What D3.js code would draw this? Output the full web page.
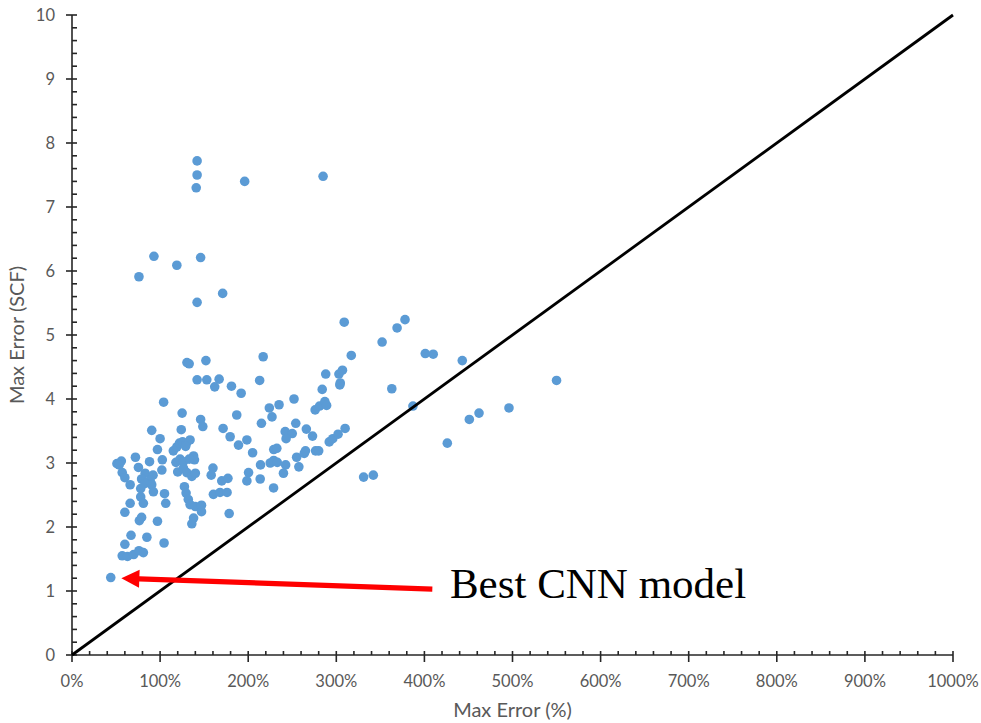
<!DOCTYPE html>
<html>
<head>
<meta charset="utf-8">
<script src="https://cdn.jsdelivr.net/npm/d3@7"></script>
<style>
  html, body { margin: 0; padding: 0; background: #ffffff; }
  svg { display: block; }
  .tick-label { font-family: Lato, "Open Sans", sans-serif; font-size: 16.5px; fill: #595959; }
  .axis-title { font-family: Lato, "Open Sans", sans-serif; font-size: 20px; fill: #595959; }
  .note { font-family: "Liberation Serif", "DejaVu Serif", serif; font-size: 43px; fill: #000000; }
</style>
</head>
<body>
<svg id="chart" width="981" height="723"></svg>
<script>
// Max error of each trained model, as a percentage and in SCF
const errPct = [
  142, 142, 141, 196, 285, 93, 119, 146, 76, 171, 142,
  309, 369, 378, 352, 317, 401, 410, 443, 550, 288, 303, 307, 304.5, 304,
  284, 363, 252, 276, 281, 287, 289, 387, 451, 462, 496, 426, 292, 296, 302,
  310, 331, 342,
  130.5, 133, 152, 217, 142, 153, 167, 162, 181, 192, 213, 104, 224, 235,
  227, 187, 125, 146, 148.5, 215, 254, 171.5, 90.5, 124, 100, 179.5, 198.5,
  189, 242, 250, 243, 266, 273, 97, 115, 119, 122, 125.5, 130, 134, 129,
  72, 102.5, 138, 139, 205, 229, 232.5, 255, 263.6, 265, 276.5, 280,
  51, 56, 53.5, 88, 118, 122.7, 126.5, 133, 160, 158, 214, 225, 229, 233,
  242.5, 257.5, 75.4, 57, 60, 66, 83, 92, 79, 88.6, 83, 102, 120, 126.5,
  130.3, 136, 140, 78, 90.5, 92.4, 78, 81, 66, 60, 76.5, 79, 97, 105,
  106.4, 127.6, 129.5, 132, 134, 140, 147, 147, 138, 136, 160.5, 168, 176,
  170, 177, 178.4, 200.4, 198.5, 213.6, 240, 228.8,
  60, 67, 85, 104.5, 57, 63, 70, 76, 81, 44
];
const errScf = [
  7.72, 7.50, 7.30, 7.40, 7.48, 6.23, 6.09, 6.21, 5.91, 5.65, 5.51,
  5.20, 5.11, 5.24, 4.89, 4.68, 4.71, 4.70, 4.60, 4.29, 4.39, 4.39, 4.45, 4.25, 4.22,
  4.15, 4.16, 4.00, 3.83, 3.89, 3.96, 3.90, 3.89, 3.68, 3.78, 3.86, 3.31, 3.33, 3.38, 3.45,
  3.54, 2.78, 2.81,
  4.57, 4.55, 4.60, 4.66, 4.30, 4.30, 4.31, 4.19, 4.20, 4.09, 4.29, 3.95, 3.86, 3.91,
  3.72, 3.75, 3.78, 3.68, 3.57, 3.62, 3.62, 3.54, 3.51, 3.52, 3.38, 3.41, 3.36,
  3.28, 3.49, 3.46, 3.38, 3.53, 3.42, 3.21, 3.19, 3.25, 3.31, 3.33, 3.31, 3.36, 3.26,
  3.09, 3.05, 3.11, 3.05, 3.16, 3.21, 3.23, 3.09, 3.15, 3.19, 3.19, 3.19,
  2.99, 3.03, 2.97, 3.02, 3.01, 3.06, 3.02, 3.06, 2.92, 2.81, 2.97, 3.00, 3.04, 3.01,
  2.97, 2.94, 2.93, 2.85, 2.77, 2.66, 2.84, 2.81, 2.75, 2.73, 2.68, 2.89, 2.86, 2.92,
  2.85, 2.79, 2.84, 2.60, 2.66, 2.55, 2.47, 2.37, 2.37, 2.23, 2.10, 2.15, 2.09, 2.52,
  2.37, 2.63, 2.53, 2.43, 2.35, 2.32, 2.34, 2.24, 2.14, 2.05, 2.51, 2.54, 2.54,
  2.72, 2.76, 2.21, 2.85, 2.72, 2.75, 2.84, 2.61,
  1.73, 1.87, 1.84, 1.75, 1.55, 1.54, 1.57, 1.63, 1.60, 1.21
];

// Axis ticks
const xTicks = [0, 100, 200, 300, 400, 500, 600, 700, 800, 900, 1000];
const yTicks = [0, 1, 2, 3, 4, 5, 6, 7, 8, 9, 10];
const xMinorStep = 20;
const yMinorStep = 0.2;

// Reference line y = x / 100 and the callout for the best model
const parityLine = [[0, 0], [1000, 10]];
const arrowTail = [409, 1.03];
const arrowHead = [56, 1.20];
const noteText = "Best CNN model";
const noteAnchor = [429, 0.89];

const margin = { top: 15, right: 28, bottom: 68, left: 72 };
const width = 981, height = 723;
const svg = d3.select("#chart");

const x = d3.scaleLinear().domain([0, 1000]).range([margin.left, width - margin.right]);
const y = d3.scaleLinear().domain([0, 10]).range([height - margin.bottom, margin.top]);

const axisColor = "#262626";

// y axis
const yMinor = d3.range(0, 10 + 1e-9, yMinorStep).filter(v => Math.abs(v - Math.round(v)) > 1e-6);
const yAxis = svg.append("g").attr("transform", `translate(${x(0)},0)`);
yAxis.append("line").attr("y1", y(0)).attr("y2", y(10)).attr("stroke", axisColor).attr("stroke-width", 1.6);
yAxis.selectAll(".ymaj").data(yTicks).join("line")
  .attr("x1", -6).attr("x2", 5).attr("y1", d => y(d)).attr("y2", d => y(d))
  .attr("stroke", axisColor).attr("stroke-width", 1.6);
yAxis.selectAll(".ymin").data(yMinor).join("line")
  .attr("x1", 0).attr("x2", 5).attr("y1", d => y(d)).attr("y2", d => y(d))
  .attr("stroke", axisColor).attr("stroke-width", 1.6);
yAxis.selectAll("text").data(yTicks).join("text")
  .attr("class", "tick-label")
  .attr("x", -17).attr("y", d => y(d)).attr("dy", "0.36em")
  .attr("text-anchor", "end").text(d => d);

// x axis
const xMinor = d3.range(0, 1000 + 1e-9, xMinorStep).filter(v => v % 100 !== 0);
const xAxis = svg.append("g").attr("transform", `translate(0,${y(0)})`);
xAxis.append("line").attr("x1", x(0)).attr("x2", x(1000)).attr("stroke", axisColor).attr("stroke-width", 1.6);
xAxis.selectAll(".xmaj").data(xTicks).join("line")
  .attr("y1", -4).attr("y2", 7).attr("x1", d => x(d)).attr("x2", d => x(d))
  .attr("stroke", axisColor).attr("stroke-width", 1.6);
xAxis.selectAll(".xmin").data(xMinor).join("line")
  .attr("y1", -4).attr("y2", 0).attr("x1", d => x(d)).attr("x2", d => x(d))
  .attr("stroke", axisColor).attr("stroke-width", 1.6);
xAxis.selectAll("text").data(xTicks).join("text")
  .attr("class", "tick-label")
  .attr("x", d => x(d)).attr("y", 26).attr("dy", "0.36em")
  .attr("text-anchor", "middle").text(d => d + "%");

// axis titles
svg.append("text").attr("class", "axis-title")
  .attr("x", (x(0) + x(1000)) / 2).attr("y", 717)
  .attr("text-anchor", "middle").text("Max Error (%)");
svg.append("text").attr("class", "axis-title")
  .attr("transform", `translate(24,${(y(0) + y(10)) / 2}) rotate(-90)`)
  .attr("text-anchor", "middle").text("Max Error (SCF)");

// points
const pts = errPct.map((v, i) => [v, errScf[i]]);
svg.append("g").selectAll("circle").data(pts).join("circle")
  .attr("cx", d => x(d[0])).attr("cy", d => y(d[1])).attr("r", 4.8)
  .attr("fill", "#5b9bd5");

// parity line
svg.append("path")
  .attr("d", d3.line().x(d => x(d[0])).y(d => y(d[1]))(parityLine))
  .attr("stroke", "#000000").attr("stroke-width", 2.8).attr("fill", "none");

// callout arrow
(function drawArrow() {
  const x0 = x(arrowTail[0]), y0 = y(arrowTail[1]);
  const x1 = x(arrowHead[0]), y1 = y(arrowHead[1]);
  const dx = x1 - x0, dy = y1 - y0, len = Math.hypot(dx, dy);
  const ux = dx / len, uy = dy / len, nx = -uy, ny = ux;
  const headLen = 18, headHalf = 9, shaftHalf = 2.6;
  const bx = x1 - ux * headLen, by = y1 - uy * headLen;
  const poly = [
    [x0 + nx * shaftHalf, y0 + ny * shaftHalf],
    [bx + nx * shaftHalf, by + ny * shaftHalf],
    [bx + nx * headHalf, by + ny * headHalf],
    [x1, y1],
    [bx - nx * headHalf, by - ny * headHalf],
    [bx - nx * shaftHalf, by - ny * shaftHalf],
    [x0 - nx * shaftHalf, y0 - ny * shaftHalf]
  ];
  svg.append("path").attr("d", "M" + poly.map(p => p.join(",")).join("L") + "Z")
    .attr("fill", "#ff0000");
})();

svg.append("text").attr("class", "note")
  .attr("x", x(noteAnchor[0])).attr("y", y(noteAnchor[1]))
  .text(noteText);
</script>
</body>
</html>
